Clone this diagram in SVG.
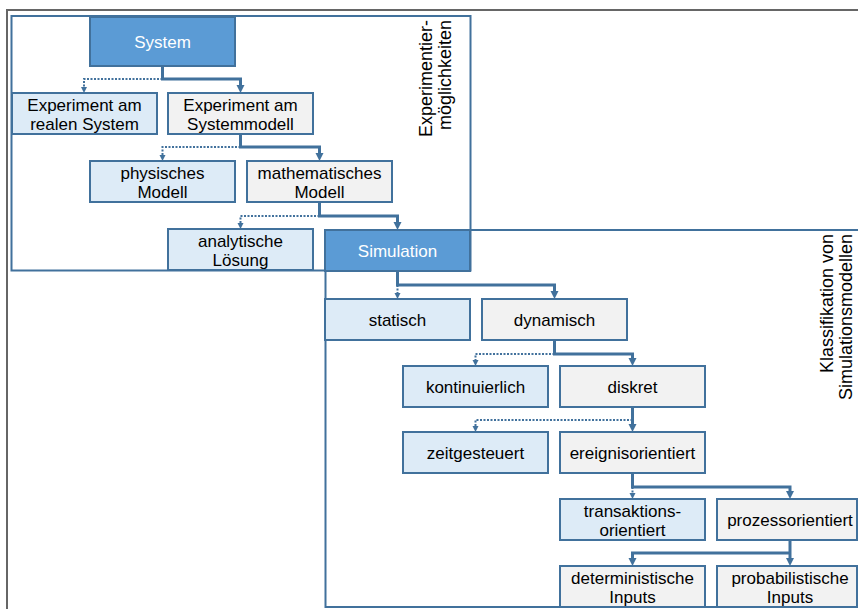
<svg xmlns="http://www.w3.org/2000/svg" width="858" height="609" viewBox="0 0 858 609">
<style>
.frame{fill:none;stroke:#41719C;stroke-width:2}
.outer{fill:none;stroke:#666666;stroke-width:2}
.box{stroke:#41719C;stroke-width:2}
.dark{fill:#5B9BD5}
.light{fill:#DDEBF7}
.grey{fill:#F2F2F2}
text{font-family:"Liberation Sans",Arial,sans-serif;font-size:17px;fill:#000;text-anchor:middle}
text.w{fill:#FFFFFF}
text.side{font-size:18px;text-anchor:end}
.thick{fill:none;stroke:#41719C;stroke-width:3;marker-end:url(#ah)}
.dot{fill:none;stroke:#41719C;stroke-width:2;stroke-dasharray:2 1.5;marker-end:url(#as)}
</style>
<defs>
<marker id="ah" viewBox="0 0 10 10" refX="0" refY="5" markerWidth="8" markerHeight="9" markerUnits="userSpaceOnUse" orient="auto">
<path d="M0,0 L10,5 L0,10 z" fill="#41719C"/>
</marker>
<marker id="as" viewBox="0 0 10 10" refX="0" refY="5" markerWidth="6" markerHeight="7" markerUnits="userSpaceOnUse" orient="auto">
<path d="M0,0 L10,5 L0,10 z" fill="#41719C"/>
</marker>
</defs>
<path class="outer" d="M7,609 V10 H858"/>
<rect class="frame" x="11.5" y="16" width="459" height="254.5"/>
<path class="frame" d="M860,230 H325.5 V607 H860"/>
<text class="side" transform="translate(432,20) rotate(-90)">Experimentier-</text>
<text class="side" transform="translate(451,20) rotate(-90)">möglichkeiten</text>
<text class="side" transform="translate(833,234) rotate(-90)">Klassifikation von</text>
<text class="side" transform="translate(852,234) rotate(-90)">Simulationsmodellen</text>
<g id="connectors">
<path class="thick" d="M162.5,66 V79 H240.5 V85"/>
<path class="dot" d="M162.5,79 H84 V87"/>
<path class="thick" d="M240.5,134 V147 H319.5 V153"/>
<path class="dot" d="M240.5,147 H162.5 V155"/>
<path class="thick" d="M319.5,202 V216 H397.5 V222"/>
<path class="dot" d="M319.5,216 H240.5 V223"/>
<path class="thick" d="M397.5,271 V285 H554.5 V291"/>
<path class="dot" d="M397.5,285 V293"/>
<path class="thick" d="M554.5,340 V354 H632.5 V358"/>
<path class="dot" d="M554.5,354 H475.5 V360"/>
<path class="thick" d="M632.5,407 V424"/>
<path class="dot" d="M632.5,420 H475.5 V426"/>
<path class="thick" d="M632.5,473 V487 H790 V491"/>
<path class="dot" d="M632.5,487 V493"/>
<path class="thick" d="M790,540 V558"/>
<path class="thick" d="M790,553 H632.5 V558"/>
</g>
<g id="system"><rect class="box dark" x="90" y="17" width="145" height="49"/><text class="w" x="162.5" y="48">System</text></g>
<g id="exp_real"><rect class="box light" x="12" y="93" width="145" height="41"/><text x="84.5" y="111">Experiment am</text><text x="84.5" y="130">realen System</text></g>
<g id="exp_sys"><rect class="box grey" x="168" y="93" width="145" height="41"/><text x="240.5" y="111">Experiment am</text><text x="240.5" y="130">Systemmodell</text></g>
<g id="physisch"><rect class="box light" x="90" y="161" width="145" height="41"/><text x="162.5" y="179">physisches</text><text x="162.5" y="198">Modell</text></g>
<g id="math"><rect class="box grey" x="247" y="161" width="145" height="41"/><text x="319.5" y="179">mathematisches</text><text x="319.5" y="198">Modell</text></g>
<g id="analyt"><rect class="box light" x="168" y="229" width="145" height="41"/><text x="240.5" y="247">analytische</text><text x="240.5" y="266">Lösung</text></g>
<g id="simulation"><rect class="box dark" x="325" y="230" width="145" height="41"/><text class="w" x="397.5" y="257">Simulation</text></g>
<g id="statisch"><rect class="box light" x="325" y="299" width="145" height="41"/><text x="397.5" y="326">statisch</text></g>
<g id="dynamisch"><rect class="box grey" x="482" y="299" width="145" height="41"/><text x="554.5" y="326">dynamisch</text></g>
<g id="kontinuierlich"><rect class="box light" x="403" y="366" width="145" height="41"/><text x="475.5" y="393">kontinuierlich</text></g>
<g id="diskret"><rect class="box grey" x="560" y="366" width="145" height="41"/><text x="632.5" y="393">diskret</text></g>
<g id="zeitgesteuert"><rect class="box light" x="403" y="432" width="145" height="41"/><text x="475.5" y="459">zeitgesteuert</text></g>
<g id="ereignis"><rect class="box grey" x="560" y="432" width="145" height="41"/><text x="632.5" y="459">ereignisorientiert</text></g>
<g id="transaktion"><rect class="box light" x="560" y="499" width="145" height="41"/><text x="632.5" y="517">transaktions-</text><text x="632.5" y="536">orientiert</text></g>
<g id="prozess"><rect class="box grey" x="717" y="499" width="140" height="41"/><text x="790" y="526">prozessorientiert</text></g>
<g id="determ"><rect class="box grey" x="560" y="566" width="145" height="41"/><text x="632.5" y="584">deterministische</text><text x="632.5" y="603">Inputs</text></g>
<g id="probab"><rect class="box grey" x="717" y="566" width="140" height="41"/><text x="790" y="584">probabilistische</text><text x="790" y="603">Inputs</text></g>
</svg>
